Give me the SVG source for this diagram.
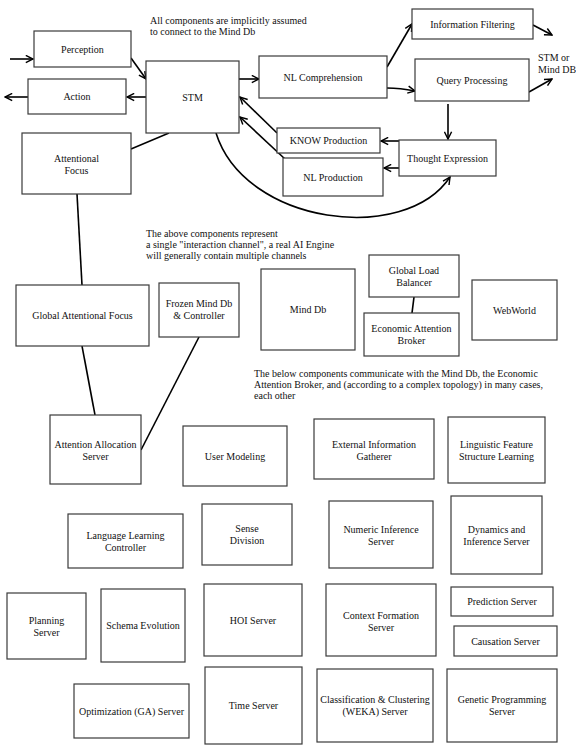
<svg xmlns="http://www.w3.org/2000/svg" width="576" height="745" viewBox="0 0 576 745">
<style>
.box{fill:#fff;stroke:#3a3a3a;stroke-width:1.2}
.t{font-family:"Liberation Serif","Times New Roman",serif;font-size:10px;fill:#111;text-anchor:middle}
.n{font-family:"Liberation Serif","Times New Roman",serif;font-size:10px;fill:#111}
.c{fill:none;stroke:#000;stroke-width:1.6}
</style>
<defs>
<marker id="ah" viewBox="0 0 10 10" refX="9" refY="5" markerWidth="9" markerHeight="9" markerUnits="userSpaceOnUse" orient="auto">
<path d="M1,1 L9,5 L1,9" fill="none" stroke="#000" stroke-width="1.6"/>
</marker>
</defs>
<rect width="576" height="745" fill="#fff"/>

<g id="connectors">
<line class="c" x1="10" y1="59" x2="33" y2="59" marker-end="url(#ah)"/>
<line class="c" x1="131" y1="58" x2="146" y2="79" marker-end="url(#ah)"/>
<line class="c" x1="146" y1="97" x2="127" y2="97" marker-end="url(#ah)"/>
<line class="c" x1="28" y1="97" x2="5" y2="97" marker-end="url(#ah)"/>
<line class="c" x1="239" y1="79" x2="259" y2="79" marker-end="url(#ah)"/>
<line class="c" x1="387" y1="67" x2="412" y2="24" marker-end="url(#ah)"/>
<path class="c" d="M387,88 Q400,88 415,91" marker-end="url(#ah)"/>
<line class="c" x1="533" y1="25" x2="552" y2="35" marker-end="url(#ah)"/>
<line class="c" x1="529" y1="92" x2="552" y2="79" marker-end="url(#ah)"/>
<line class="c" x1="448" y1="104" x2="448" y2="139" marker-end="url(#ah)"/>
<line class="c" x1="399" y1="141" x2="381" y2="141" marker-end="url(#ah)"/>
<line class="c" x1="399" y1="168" x2="384" y2="168" marker-end="url(#ah)"/>
<line class="c" x1="277" y1="133" x2="240" y2="97" marker-end="url(#ah)"/>
<line class="c" x1="285" y1="159" x2="240" y2="117" marker-end="url(#ah)"/>
<path class="c" d="M216,133 C245,225 405,245 450,177" marker-end="url(#ah)"/>
<line class="c" x1="169" y1="133" x2="131" y2="149"/>
<line class="c" x1="77" y1="194" x2="82" y2="285"/>
<line class="c" x1="82" y1="346" x2="95" y2="415"/>
<line class="c" x1="199" y1="337" x2="141" y2="450"/>
<line class="c" x1="414" y1="297" x2="412" y2="313"/>
</g>

<g id="notes">
<text class="n" x="150" y="24">All components are implicitly assumed</text>
<text class="n" x="150" y="35">to connect to the Mind Db</text>
<text class="n" x="538" y="61">STM or</text>
<text class="n" x="538" y="73">Mind DB</text>
<text class="n" x="146" y="237">The above components represent</text>
<text class="n" x="146" y="248">a single "interaction channel", a real AI Engine</text>
<text class="n" x="146" y="259">will generally contain multiple channels</text>
<text class="n" x="254" y="377">The below components communicate with the Mind Db, the Economic</text>
<text class="n" x="254" y="388">Attention Broker, and (according to a complex topology) in many cases,</text>
<text class="n" x="254" y="399">each other</text>
</g>

<g id="perception"><rect class="box" x="34" y="31" width="97" height="36"/><text class="t" x="82.5" y="52.5">Perception</text></g>
<g id="action"><rect class="box" x="28" y="79" width="98" height="35"/><text class="t" x="77" y="100">Action</text></g>
<g id="stm"><rect class="box" x="146" y="61" width="93" height="72"/><text class="t" x="192.5" y="100.5">STM</text></g>
<g id="attentional-focus"><rect class="box" x="22" y="133" width="109" height="61"/><text class="t" x="76.5" y="162">Attentional</text><text class="t" x="76.5" y="174">Focus</text></g>
<g id="nl-comprehension"><rect class="box" x="259" y="56" width="128" height="42"/><text class="t" x="323" y="80.5">NL Comprehension</text></g>
<g id="information-filtering"><rect class="box" x="412" y="9" width="121" height="30"/><text class="t" x="472.5" y="27.5">Information Filtering</text></g>
<g id="query-processing"><rect class="box" x="415" y="59" width="114" height="42"/><text class="t" x="472" y="83.5">Query Processing</text></g>
<g id="know-production"><rect class="box" x="277" y="128" width="103" height="25"/><text class="t" x="328.5" y="144">KNOW Production</text></g>
<g id="nl-production"><rect class="box" x="283" y="158" width="100" height="38"/><text class="t" x="333" y="180.5">NL Production</text></g>
<g id="thought-expression"><rect class="box" x="399" y="140" width="97" height="36"/><text class="t" x="447.5" y="161.5">Thought Expression</text></g>

<g id="global-attentional-focus"><rect class="box" x="16" y="285" width="133" height="61"/><text class="t" x="82.5" y="319">Global Attentional Focus</text></g>
<g id="frozen-mind-db"><rect class="box" x="159" y="283" width="80" height="54"/><text class="t" x="199" y="307">Frozen  Mind Db</text><text class="t" x="199" y="319">&amp; Controller</text></g>
<g id="mind-db"><rect class="box" x="261" y="269" width="94" height="81"/><text class="t" x="308" y="313">Mind Db</text></g>
<g id="global-load-balancer"><rect class="box" x="369" y="255" width="90" height="42"/><text class="t" x="414" y="274">Global Load</text><text class="t" x="414" y="286">Balancer</text></g>
<g id="economic-attention-broker"><rect class="box" x="364" y="313" width="95" height="43"/><text class="t" x="411.5" y="332">Economic Attention</text><text class="t" x="411.5" y="344">Broker</text></g>
<g id="webworld"><rect class="box" x="472" y="280" width="85" height="60"/><text class="t" x="514.5" y="313.5">WebWorld</text></g>

<g id="attention-allocation-server"><rect class="box" x="50" y="415" width="91" height="69"/><text class="t" x="95.5" y="448">Attention Allocation</text><text class="t" x="95.5" y="460">Server</text></g>
<g id="user-modeling"><rect class="box" x="183" y="426" width="104" height="60"/><text class="t" x="235" y="459.5">User Modeling</text></g>
<g id="external-information-gatherer"><rect class="box" x="314" y="419" width="120" height="60"/><text class="t" x="374" y="448">External Information</text><text class="t" x="374" y="460">Gatherer</text></g>
<g id="linguistic-feature-structure-learning"><rect class="box" x="448" y="417" width="97" height="66"/><text class="t" x="496.5" y="448">Linguistic Feature</text><text class="t" x="496.5" y="460">Structure Learning</text></g>

<g id="language-learning-controller"><rect class="box" x="68" y="514" width="115" height="54"/><text class="t" x="125.5" y="539">Language Learning</text><text class="t" x="125.5" y="551">Controller</text></g>
<g id="sense-division"><rect class="box" x="202" y="504" width="90" height="61"/><text class="t" x="247" y="532">Sense</text><text class="t" x="247" y="544">Division</text></g>
<g id="numeric-inference-server"><rect class="box" x="329" y="501" width="104" height="67"/><text class="t" x="381" y="533">Numeric Inference</text><text class="t" x="381" y="545">Server</text></g>
<g id="dynamics-inference-server"><rect class="box" x="451" y="496" width="91" height="78"/><text class="t" x="496.5" y="533">Dynamics and</text><text class="t" x="496.5" y="545">Inference Server</text></g>

<g id="planning-server"><rect class="box" x="7" y="593" width="79" height="66"/><text class="t" x="46.5" y="624">Planning</text><text class="t" x="46.5" y="636">Server</text></g>
<g id="schema-evolution"><rect class="box" x="101" y="589" width="84" height="73"/><text class="t" x="143" y="629">Schema Evolution</text></g>
<g id="hoi-server"><rect class="box" x="204" y="584" width="98" height="72"/><text class="t" x="253" y="624">HOI Server</text></g>
<g id="context-formation-server"><rect class="box" x="326" y="584" width="110" height="72"/><text class="t" x="381" y="619">Context Formation</text><text class="t" x="381" y="631">Server</text></g>
<g id="prediction-server"><rect class="box" x="451" y="587" width="102" height="29"/><text class="t" x="502" y="605">Prediction Server</text></g>
<g id="causation-server"><rect class="box" x="454" y="626" width="103" height="30"/><text class="t" x="505.5" y="644.5">Causation Server</text></g>

<g id="optimization-server"><rect class="box" x="74" y="684" width="115" height="54"/><text class="t" x="131.5" y="714.5">Optimization (GA) Server</text></g>
<g id="time-server"><rect class="box" x="205" y="667" width="97" height="77"/><text class="t" x="253.5" y="709">Time Server</text></g>
<g id="classification-clustering-server"><rect class="box" x="317" y="669" width="116" height="73"/><text class="t" x="375" y="703">Classification &amp; Clustering</text><text class="t" x="375" y="715">(WEKA) Server</text></g>
<g id="genetic-programming-server"><rect class="box" x="447" y="669" width="110" height="73"/><text class="t" x="502" y="703">Genetic Programming</text><text class="t" x="502" y="715">Server</text></g>
</svg>
